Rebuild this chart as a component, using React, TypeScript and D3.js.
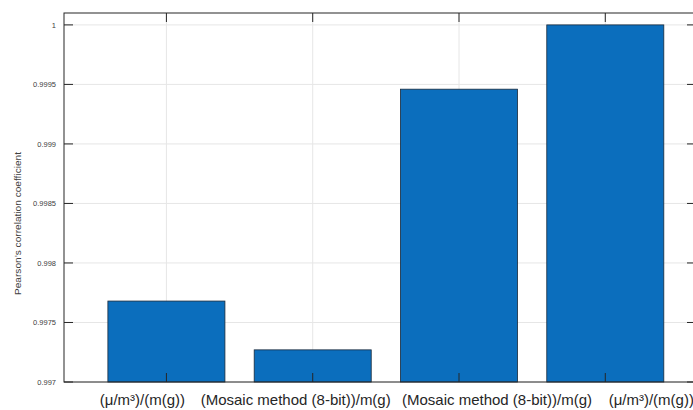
import React from "react";
import * as d3 from "d3";

// bar data
const categories = [
  "(μ/m³)/(m(g))",
  "(Mosaic method (8-bit))/m(g)",
  "(Mosaic method (8-bit))/m(g)",
  "(μ/m³)/(m(g))",
];
const values = [0.99768, 0.99727, 0.99946, 1.0];
const yTicks = [0.997, 0.9975, 0.998, 0.9985, 0.999, 0.9995, 1];

const W = 693;
const H = 410;
const margin = { top: 13, right: -3, bottom: 28, left: 64 };
// the category labels sit off their bars in the original, shift them the same way
const labelShift = [-24, -17, 38, 46];

const App = () => {
  const x = d3
    .scaleLinear()
    .domain([0.3, 4.62])
    .range([margin.left, W - margin.right]);
  const y = d3
    .scaleLinear()
    .domain([0.997, 1.0001])
    .range([H - margin.bottom, margin.top]);

  const x0 = margin.left;
  const x1 = W - margin.right;
  const y0 = H - margin.bottom;
  const y1 = margin.top;
  const barW = (x(2) - x(1)) * 0.8;
  const axisColor = "#262626";
  const grid = "#e6e6e6";

  return (
    <svg
      width={W}
      height={H}
      style={{ position: "absolute", left: 0, top: 0, background: "#fff" }}
      fontFamily="'Liberation Sans', Arial, sans-serif"
    >
      {/* grid */}
      {yTicks.map((t) => (
        <line key={"gy" + t} x1={x0} x2={x1} y1={y(t)} y2={y(t)} stroke={grid} strokeWidth={1} />
      ))}
      {values.map((_, i) => (
        <line key={"gx" + i} x1={x(i + 1)} x2={x(i + 1)} y1={y0} y2={y1} stroke={grid} strokeWidth={1} />
      ))}

      {/* bars */}
      {values.map((v, i) => (
        <rect
          key={"b" + i}
          x={x(i + 1) - barW / 2}
          y={y(v)}
          width={barW}
          height={y0 - y(v)}
          fill="#0b6ebd"
          stroke="#1a2a3a"
          strokeWidth={0.8}
        />
      ))}

      {/* box */}
      <rect x={x0} y={y1} width={x1 - x0} height={y0 - y1} fill="none" stroke={axisColor} strokeWidth={1} />

      {/* y ticks */}
      {yTicks.map((t) => (
        <g key={"ty" + t}>
          <line x1={x0} x2={x0 + 9} y1={y(t)} y2={y(t)} stroke={axisColor} />
          <line x1={x1 - 9} x2={x1} y1={y(t)} y2={y(t)} stroke={axisColor} />
          <text x={x0 - 8} y={y(t)} dy="0.35em" textAnchor="end" fontSize={7.5} fill="#404040">
            {d3.format("")(t)}
          </text>
        </g>
      ))}

      {/* x ticks */}
      {categories.map((c, i) => (
        <g key={"tx" + i}>
          <line x1={x(i + 1)} x2={x(i + 1)} y1={y0} y2={y0 - 9} stroke={axisColor} />
          <line x1={x(i + 1)} x2={x(i + 1)} y1={y1} y2={y1 + 9} stroke={axisColor} />
          <text
            x={x(i + 1) + labelShift[i]}
            y={y0 + 23}
            textAnchor="middle"
            fontSize={15}
            fill="#262626"
          >
            {c}
          </text>
        </g>
      ))}

      <text
        transform={`translate(21,${(y0 + y1) / 2 + 26}) rotate(-90)`}
        textAnchor="middle"
        fontSize={9.5}
        textLength={143}
        lengthAdjust="spacingAndGlyphs"
        fill="#404040"
      >
        Pearson’s correlation coefficient
      </text>
    </svg>
  );
};

export default App;
